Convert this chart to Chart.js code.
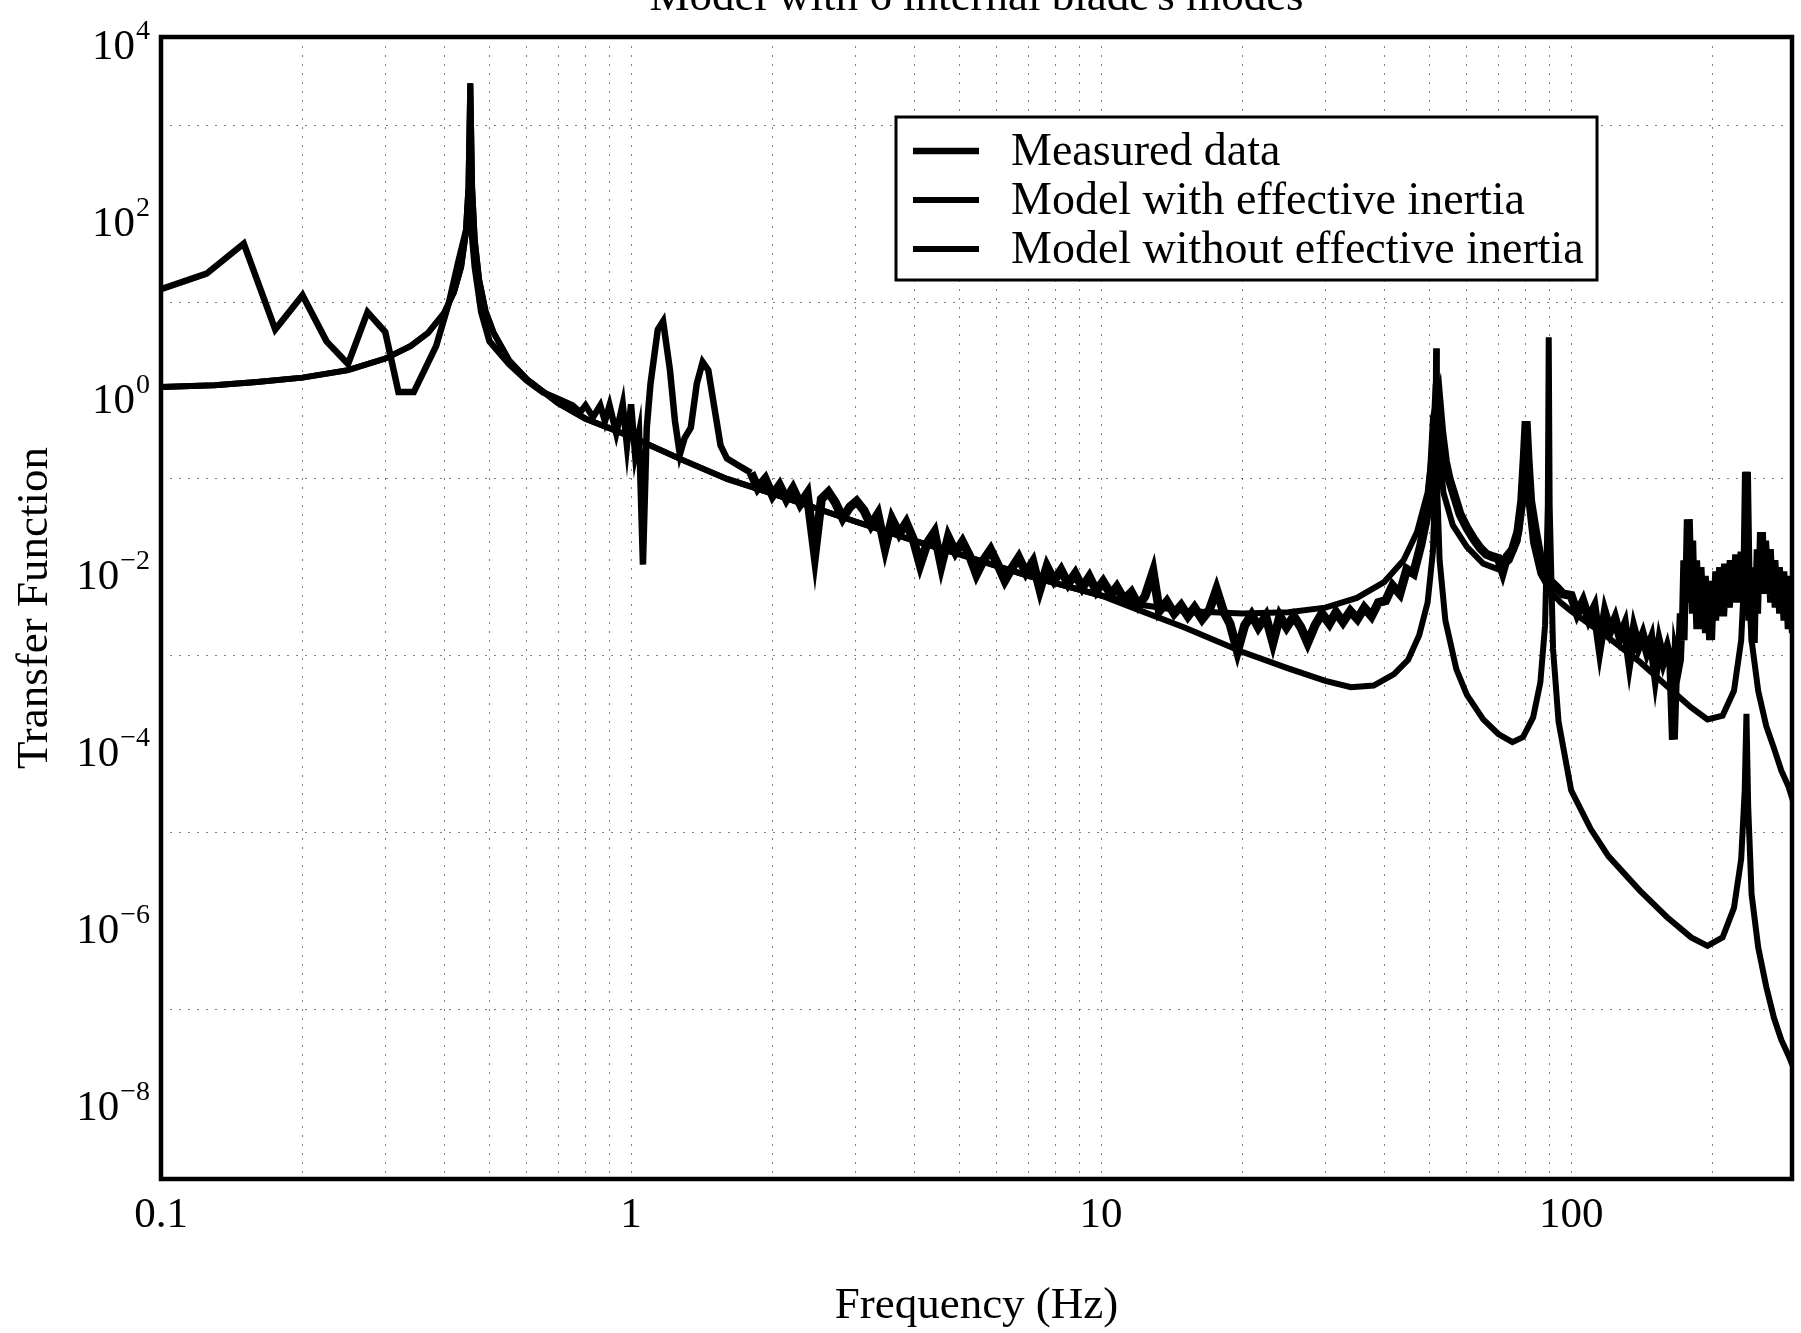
<!DOCTYPE html>
<html>
<head>
<meta charset="utf-8">
<title>Transfer function</title>
<script src="https://cdn.jsdelivr.net/npm/chart.js@4.4.0/dist/chart.umd.min.js"></script>
<style>
  html, body { margin: 0; padding: 0; background: #fff; }
</style>
</head>
<body>
<canvas id="myChart" width="1801" height="1333"></canvas>
<script>
const chartTitle = "Model with 6 internal blade's modes";

// axis ticks
const xTickValues = [0.1, 1, 10, 100];
const xTickLabels = ['0.1', '1', '10', '100'];
const yTickValues = [1e4, 1e2, 1e0, 1e-2, 1e-4, 1e-6, 1e-8];
const yTickExponents = ['4', '2', '0', '\u22122', '\u22124', '\u22126', '\u22128'];
const xGridValues = [0.2, 0.3, 0.4, 0.5, 0.6, 0.7, 0.8, 0.9, 1, 2, 3, 4, 5, 6, 7, 8, 9,
    10, 20, 30, 40, 50, 60, 70, 80, 90, 100, 200];
const yGridValues = [1e3, 1e1, 1e-1, 1e-3, 1e-5, 1e-7];

// measured data (frequency in Hz, transfer function)
const measuredHz = [
    0.1, 0.125, 0.15, 0.175, 0.2, 0.225, 0.25, 0.275, 0.3, 0.32,
    0.345, 0.385, 0.41, 0.43, 0.445, 0.455, 0.465, 0.48, 0.5, 0.55,
    0.6, 0.65, 0.7, 0.75, 0.78, 0.8, 0.83, 0.86, 0.88, 0.9,
    0.93, 0.96, 0.98, 1.0, 1.02, 1.04, 1.06, 1.08, 1.1, 1.14,
    1.17, 1.21, 1.24, 1.27, 1.3, 1.34, 1.38, 1.42, 1.46, 1.5,
    1.55, 1.6, 1.7,
    1.80, 1.86, 1.93, 2.00, 2.07, 2.14, 2.21, 2.29, 2.37, 2.46,
    2.54, 2.63, 2.72, 2.82, 2.92, 3.02, 3.13, 3.24, 3.35, 3.47,
    3.59, 3.72, 3.85, 3.98, 4.12, 4.27, 4.42, 4.57, 4.73, 4.90,
    5.07, 5.25, 5.43, 5.62, 5.82, 6.03, 6.24, 6.46, 6.68, 6.92,
    7.16, 7.41, 7.67, 7.94, 8.22, 8.51, 8.81, 9.12, 9.44, 9.77,
    10.1, 10.5, 10.8, 11.2, 11.6, 12.0, 12.4, 12.9, 13.3, 13.8,
    14.3, 14.8, 15.3, 15.8, 16.4, 17.0, 17.6, 18.2, 18.8, 19.5,
    20.2, 20.9, 21.6, 22.4, 23.2, 24.0, 24.8, 25.7, 26.6, 27.5,
    28.5, 29.5, 30.6, 31.6, 32.7, 33.9, 35.1, 36.3, 37.6, 38.9,
    40.3, 41.7, 43.2, 44.7, 46.2, 47.9, 49.6,
    50.5, 51.2, 52.3, 53.0, 54.0, 55.0, 56.5, 58.0, 60, 62,
    64, 66, 68, 70, 71.5, 73, 75, 77, 78.5, 79.5,
    80.2, 81, 82, 84, 86, 88, 90, 93, 96,
    100, 103, 106, 109, 112, 115, 118, 121, 124, 127,
    130, 133, 136, 139, 142, 145, 148, 151, 154, 157,
    160, 163, 165, 167, 168.5,
    170, 171.5, 173, 174.5, 176, 177.5, 179, 180.5, 182, 184,
    186, 188, 190, 192, 194, 196, 198, 200, 202, 204,
    206, 208, 210, 213, 216, 219, 222, 225, 228, 231,
    234, 236, 238, 240, 242, 244, 246, 248, 250, 252,
    254, 256, 258, 261, 264, 267, 270, 273, 276, 279,
    282, 285, 288, 291, 294, 297
];
const measuredTF = [
    14, 21, 46, 4.9, 12, 3.6, 2.0, 7.7, 4.6, 0.96,
    0.96, 3.2, 10, 30, 63, 95, 25, 7.7, 3.6, 2.0,
    1.3, 0.95, 0.8, 0.68, 0.57, 0.68, 0.5, 0.68, 0.45, 0.68,
    0.33, 0.7, 0.24, 0.7, 0.19, 0.33, 0.0107, 0.38, 1.2, 4.9,
    6.1, 1.7, 0.45, 0.19, 0.29, 0.38, 1.2, 2.1, 1.7, 0.7,
    0.24, 0.17, 0.14,
    0.117, 0.079, 0.100, 0.065, 0.085, 0.059, 0.078, 0.052, 0.068, 0.014,
    0.059, 0.071, 0.054, 0.036, 0.048, 0.056, 0.044, 0.030, 0.040, 0.0166,
    0.035, 0.024, 0.032, 0.021, 0.0107, 0.019, 0.025, 0.0105, 0.022, 0.0148,
    0.0195, 0.0135, 0.0083, 0.012, 0.0158, 0.0107, 0.0071, 0.0098, 0.0129, 0.0087,
    0.0115, 0.0056, 0.0102, 0.0071, 0.0093, 0.0065, 0.0085, 0.0059, 0.0078, 0.0054,
    0.0069, 0.0049, 0.0060, 0.0043, 0.0052, 0.0037, 0.0047, 0.0089, 0.0032, 0.0041,
    0.0030, 0.0037, 0.0028, 0.0035, 0.0026, 0.0033, 0.0056, 0.0032, 0.0023, 0.00112,
    0.0022, 0.0029, 0.0021, 0.0028, 0.0014, 0.0028, 0.0021, 0.0028, 0.0021, 0.0014,
    0.0022, 0.0030, 0.0023, 0.0031, 0.0024, 0.0032, 0.0026, 0.0035, 0.0028, 0.0040,
    0.0042, 0.0062, 0.0050, 0.0095, 0.0085, 0.018, 0.045,
    0.126, 0.5, 0.79, 0.35, 0.158, 0.1, 0.063, 0.040, 0.028, 0.021,
    0.0166, 0.0141, 0.0132, 0.0126, 0.0089, 0.0132, 0.0158, 0.025, 0.056, 0.178,
    0.45, 0.158, 0.056, 0.025, 0.0126, 0.0089, 0.0071, 0.006, 0.005,
    0.0048, 0.0030, 0.0041, 0.0026, 0.0035, 0.00126, 0.0030, 0.0019, 0.0026, 0.00162,
    0.0022, 0.00089, 0.00195, 0.00126, 0.0017, 0.00112, 0.0015, 0.00063, 0.00135, 0.00087,
    0.0012, 0.00079, 0.000112, 0.00089, 0.0007,
    0.0009, 0.003, 0.0015, 0.012, 0.004, 0.035, 0.006, 0.02, 0.003, 0.012,
    0.002, 0.01, 0.0025, 0.008, 0.0018, 0.006, 0.0015, 0.007, 0.0025, 0.009,
    0.003, 0.01, 0.0028, 0.011, 0.0035, 0.012, 0.004, 0.014, 0.004, 0.015,
    0.005, 0.12, 0.006, 0.0025, 0.008, 0.0014, 0.01, 0.003, 0.016, 0.005,
    0.025, 0.007, 0.02, 0.005, 0.016, 0.004, 0.012, 0.0035, 0.01, 0.003,
    0.009, 0.0025, 0.008, 0.002, 0.006, 0.0018
];

// model with effective inertia
const withHz = [
    0.1, 0.13, 0.16, 0.2, 0.25, 0.3, 0.34, 0.37, 0.4, 0.42,
    0.435, 0.445, 0.451, 0.455, 0.459, 0.465, 0.475, 0.49, 0.51, 0.55,
    0.6, 0.7, 0.8, 1, 1.3, 1.6, 2, 3, 4, 5,
    7, 10, 12, 15, 20, 25, 30, 35, 40, 44,
    47, 49.5, 50.8, 51.5, 52.2, 53.5, 56, 60, 65, 70,
    74, 77, 79, 80, 81, 83, 86, 90, 95, 100,
    120, 140, 160, 180, 195, 210, 222, 230, 234, 236,
    238, 242, 250, 260, 270, 280, 290, 297
];
const withTF = [
    1.1, 1.15, 1.25, 1.4, 1.7, 2.3, 3.2, 4.5, 7.5, 13,
    25, 60, 200, 3000, 200, 50, 18, 8, 4.5, 2.2,
    1.35, 0.72, 0.48, 0.3, 0.16, 0.1, 0.068, 0.033, 0.02, 0.014,
    0.008, 0.0048, 0.0038, 0.0032, 0.003, 0.0031, 0.0035, 0.0045, 0.0068, 0.012,
    0.025, 0.07, 0.25, 1.2, 0.25, 0.07, 0.03, 0.017, 0.011, 0.0095,
    0.012, 0.02, 0.06, 0.4, 0.06, 0.019, 0.0085, 0.0055, 0.004, 0.0032,
    0.0016, 0.00085, 0.00045, 0.00026, 0.00019, 0.00021, 0.0004, 0.0015, 0.01, 0.12,
    0.008, 0.0015, 0.0004, 0.00016, 9e-5, 5e-5, 3.3e-5, 2.2e-5
];

// model without effective inertia
const withoutHz = [
    0.1, 0.13, 0.16, 0.2, 0.25, 0.3, 0.34, 0.37, 0.4, 0.42,
    0.435, 0.445, 0.451, 0.455, 0.459, 0.465, 0.475, 0.49, 0.51, 0.55,
    0.6, 0.7, 0.8, 1, 1.3, 1.6, 2, 3, 4, 5,
    7, 10, 12, 15, 20, 25, 30, 34, 38, 42,
    45, 47.5, 49.5, 50.8, 51.4, 51.6, 51.8, 52.5, 54, 57,
    60, 65, 70, 75, 79, 83, 86, 88, 89.2, 89.6,
    90, 91.5, 94, 100, 110, 120, 140, 160, 180, 195,
    210, 222, 230, 234, 236, 238, 242, 250, 260, 270,
    280, 290, 297
];
const withoutTF = [
    1.1, 1.15, 1.25, 1.4, 1.7, 2.3, 3.2, 4.5, 7.5, 13,
    25, 60, 200, 3000, 200, 50, 18, 8, 4.5, 2.2,
    1.35, 0.72, 0.48, 0.3, 0.16, 0.1, 0.068, 0.033, 0.02, 0.014,
    0.008, 0.0048, 0.0033, 0.0021, 0.0011, 0.00072, 0.00052, 0.00044, 0.00046, 0.00062,
    0.0009, 0.0017, 0.004, 0.015, 0.1, 3, 0.1, 0.012, 0.0025, 0.0007,
    0.00036, 0.00019, 0.00013, 0.000105, 0.00012, 0.0002, 0.0005, 0.0022, 0.05, 4,
    0.05, 0.0012, 0.00018, 3e-5, 1.1e-5, 5.4e-6, 2.2e-6, 1.1e-6, 6.5e-7, 5.2e-7,
    6.5e-7, 1.4e-6, 5e-6, 3e-5, 2.2e-4, 2e-5, 2e-6, 5e-7, 1.8e-7, 8e-8,
    4.5e-8, 3e-8, 2.2e-8
];

Chart.defaults.font.family = '"Liberation Serif", "Times New Roman", serif';
Chart.defaults.color = '#000';

function toPoints(freqs, values) {
    return freqs.map(function (f, i) { return { x: f, y: values[i] }; });
}

// frame, tick labels, title and legend drawn on top of the chart
const decorations = {
    id: 'decorations',
    afterDraw: function (chart) {
        const ctx = chart.ctx;
        const area = chart.chartArea;
        const xScale = chart.scales.x;
        const yScale = chart.scales.y;
        ctx.save();

        ctx.lineWidth = 4.5;
        ctx.strokeStyle = '#000';
        ctx.strokeRect(area.left, area.top, area.right - area.left, area.bottom - area.top);

        ctx.fillStyle = '#000';
        ctx.textBaseline = 'alphabetic';

        // title, cut off by the top of the page like in the scan
        ctx.font = '45px "Liberation Serif"';
        ctx.textAlign = 'center';
        ctx.fillText(chartTitle, (area.left + area.right) / 2, 10);

        // x tick labels
        ctx.font = '43px "Liberation Serif"';
        xTickValues.forEach(function (v, i) {
            ctx.fillText(xTickLabels[i], xScale.getPixelForValue(v), area.bottom + 48);
        });

        // y tick labels as 10 with a raised exponent
        yTickValues.forEach(function (v, i) {
            const py = yScale.getPixelForValue(v);
            ctx.font = '28px "Liberation Serif"';
            const expWidth = ctx.measureText(yTickExponents[i]).width;
            const right = 150;
            ctx.textAlign = 'right';
            ctx.fillText(yTickExponents[i], right, py + 2);
            ctx.font = '43px "Liberation Serif"';
            ctx.fillText('10', right - expWidth - 1, py + 22);
        });

        // legend
        const box = { left: 896, top: 117, width: 701, height: 163 };
        ctx.fillStyle = '#fff';
        ctx.fillRect(box.left, box.top, box.width, box.height);
        ctx.lineWidth = 3;
        ctx.strokeRect(box.left, box.top, box.width, box.height);
        ctx.fillStyle = '#000';
        ctx.font = '46px "Liberation Serif"';
        ctx.textAlign = 'left';
        ctx.textBaseline = 'middle';
        chart.data.datasets.forEach(function (ds, i) {
            const ly = box.top + 34 + i * 49;
            ctx.lineWidth = ds.borderWidth;
            ctx.beginPath();
            ctx.moveTo(box.left + 17, ly);
            ctx.lineTo(box.left + 83, ly);
            ctx.stroke();
            ctx.fillText(ds.label, box.left + 115, ly + 2);
        });
        ctx.restore();
    }
};

var ctx = document.getElementById('myChart');
var myChart = new Chart(ctx, {
    type: 'line',
    data: {
        datasets: [{
            label: 'Measured data',
            data: toPoints(measuredHz, measuredTF),
            borderColor: '#000000',
            borderWidth: 6.5,
            // the noisy part of the measurement prints as a heavy band
            segment: {
                borderWidth: function (c) { return c.p0.parsed.x >= 1.75 ? 9 : 6.5; }
            },
            pointRadius: 0,
            tension: 0
        }, {
            label: 'Model with effective inertia',
            data: toPoints(withHz, withTF),
            borderColor: '#000000',
            borderWidth: 6,
            pointRadius: 0,
            tension: 0
        }, {
            label: 'Model without effective inertia',
            data: toPoints(withoutHz, withoutTF),
            borderColor: '#000000',
            borderWidth: 6,
            pointRadius: 0,
            tension: 0
        }]
    },
    options: {
        responsive: false,
        animation: false,
        layout: {
            padding: { top: 37, right: 9, left: 0, bottom: 0 }
        },
        scales: {
            x: {
                type: 'logarithmic',
                min: 0.1,
                max: 295,
                afterBuildTicks: function (scale) {
                    scale.ticks = xGridValues.map(function (v) { return { value: v }; });
                },
                afterFit: function (scale) {
                    scale.height = 154;
                },
                ticks: { display: false },
                grid: { color: 'rgba(0, 0, 0, 0.5)', lineWidth: 1, drawTicks: false },
                border: { display: false, dash: [2, 7] },
                title: {
                    display: true,
                    text: 'Frequency (Hz)',
                    font: { size: 45, lineHeight: 1.2 },
                    padding: { top: 0, bottom: 0 }
                }
            },
            y: {
                type: 'logarithmic',
                min: 1.2e-9,
                max: 1e4,
                afterBuildTicks: function (scale) {
                    scale.ticks = yGridValues.map(function (v) { return { value: v }; });
                },
                afterFit: function (scale) {
                    scale.width = 161;
                },
                ticks: { display: false },
                grid: { color: 'rgba(0, 0, 0, 0.5)', lineWidth: 1, drawTicks: false },
                border: { display: false, dash: [2, 7] },
                title: {
                    display: true,
                    text: 'Transfer Function',
                    font: { size: 45, lineHeight: 1.2 },
                    padding: { top: 8, bottom: 0 }
                }
            }
        },
        plugins: {
            legend: { display: false },
            tooltip: { enabled: false }
        }
    },
    plugins: [decorations]
});
</script>
</body>
</html>
